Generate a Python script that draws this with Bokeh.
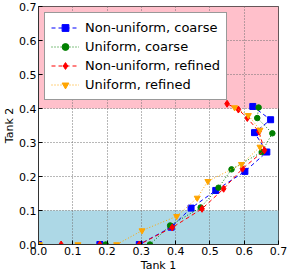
from bokeh.plotting import figure
from bokeh.models import Range1d, FixedTicker, NumeralTickFormatter, BoxAnnotation, Legend, LegendItem
from bokeh.embed import file_html
from bokeh.resources import INLINE

# Non-uniform, coarse
nu_coarse_x = [0.0, 0.179, 0.294, 0.387, 0.445, 0.517, 0.602, 0.666, 0.630, 0.677, 0.625]
nu_coarse_y = [0.0, 0.0, 0.0, 0.051, 0.107, 0.159, 0.215, 0.272, 0.329, 0.367, 0.406]
# Uniform, coarse
u_coarse_x = [0.0, 0.196, 0.325, 0.384, 0.473, 0.525, 0.563, 0.651, 0.682, 0.638, 0.642]
u_coarse_y = [0.0, 0.0, 0.0, 0.056, 0.109, 0.167, 0.221, 0.272, 0.327, 0.372, 0.403]
# Non-uniform, refined
nu_ref_x = [0.0, 0.066, 0.179, 0.294, 0.390, 0.477, 0.540, 0.595, 0.659, 0.643, 0.609, 0.583, 0.550]
nu_ref_y = [0.0, 0.0, 0.0, 0.0, 0.050, 0.105, 0.164, 0.223, 0.277, 0.332, 0.372, 0.397, 0.414]
# Uniform, refined
u_ref_x = [0.003, 0.115, 0.228, 0.302, 0.403, 0.463, 0.494, 0.592, 0.646, 0.646, 0.612, 0.572]
u_ref_y = [0.0, 0.0, 0.0, 0.041, 0.083, 0.137, 0.186, 0.236, 0.287, 0.337, 0.380, 0.403]

series_labels = ["Non-uniform, coarse", "Uniform, coarse", "Non-uniform, refined", "Uniform, refined"]
ticks = [0.0, 0.1, 0.2, 0.3, 0.4, 0.5, 0.6, 0.7]
safe_band = [0.1, 0.4]

FONT = "DejaVu Sans"

p = figure(width=288, height=274, output_backend="svg", toolbar_location=None,
           x_range=Range1d(0, 0.7), y_range=Range1d(0, 0.7),
           min_border_left=30, min_border_top=6, min_border_right=10, min_border_bottom=5)
p.background_fill_color = "white"
p.border_fill_color = "white"
p.outline_line_color = "#333333"
p.outline_line_width = 1

# bands
p.add_layout(BoxAnnotation(bottom=safe_band[1], top=0.7, fill_color="#FFC0CB", fill_alpha=1.0,
                           line_color=None, level="image"))
p.add_layout(BoxAnnotation(bottom=0.0, top=safe_band[0], fill_color="#ADD8E6", fill_alpha=1.0,
                           line_color=None, level="image"))

for ax in (p.xaxis, p.yaxis):
    ax.ticker = FixedTicker(ticks=ticks)
    ax.formatter = NumeralTickFormatter(format="0.0")
    ax.major_tick_in = 4
    ax.major_tick_out = 0
    ax.minor_tick_line_color = None
    ax.axis_line_color = "#333333"
    ax.major_label_text_font = FONT
    ax.major_label_text_font_size = "11px"
    ax.major_label_text_color = "black"
    ax.major_label_standoff = 2
    ax.axis_label_text_font = FONT
    ax.axis_label_text_font_size = "11px"
    ax.axis_label_text_font_style = "normal"
    ax.axis_label_text_color = "black"
p.xaxis.axis_label_standoff = 1
p.yaxis.axis_label_standoff = 0
p.xaxis.axis_label = "Tank 1"
p.yaxis.axis_label = "Tank 2"

p.grid.ticker = FixedTicker(ticks=ticks)
p.grid.grid_line_color = "#707070"
p.grid.grid_line_dash = "1 2"
p.grid.grid_line_width = 1

specs = [
    (nu_coarse_x, nu_coarse_y, "#0000FF", "square", 6, "4 3"),
    (u_coarse_x, u_coarse_y, "#008000", "circle", 5.5, "1 2"),
    (nu_ref_x, nu_ref_y, "#FF0000", "diamond", 7, "4 3"),
    (u_ref_x, u_ref_y, "#FFA500", "inverted_triangle", 6, "1 2"),
]

items = []
for (xs, ys, col, mk, sz, dash), lab in zip(specs, series_labels):
    ln = p.line(xs, ys, line_color=col, line_dash=dash, line_width=1)
    sc = p.scatter(xs, ys, marker=mk, size=sz, fill_color=col, line_color=col)
    items.append(LegendItem(label=lab, renderers=[ln, sc]))

legend = Legend(items=items, location="top_left")
legend.label_text_font = FONT
legend.label_text_font_size = "13px"
legend.label_text_color = "black"
legend.border_line_color = "#333333"
legend.border_line_width = 1
legend.background_fill_color = "white"
legend.background_fill_alpha = 1.0
legend.glyph_width = 28
legend.glyph_height = 17
legend.label_height = 17
legend.spacing = 2
legend.padding = 6
legend.margin = 6
legend.label_standoff = 6
p.add_layout(legend)

open("out.html", "w").write(file_html(p, INLINE))
